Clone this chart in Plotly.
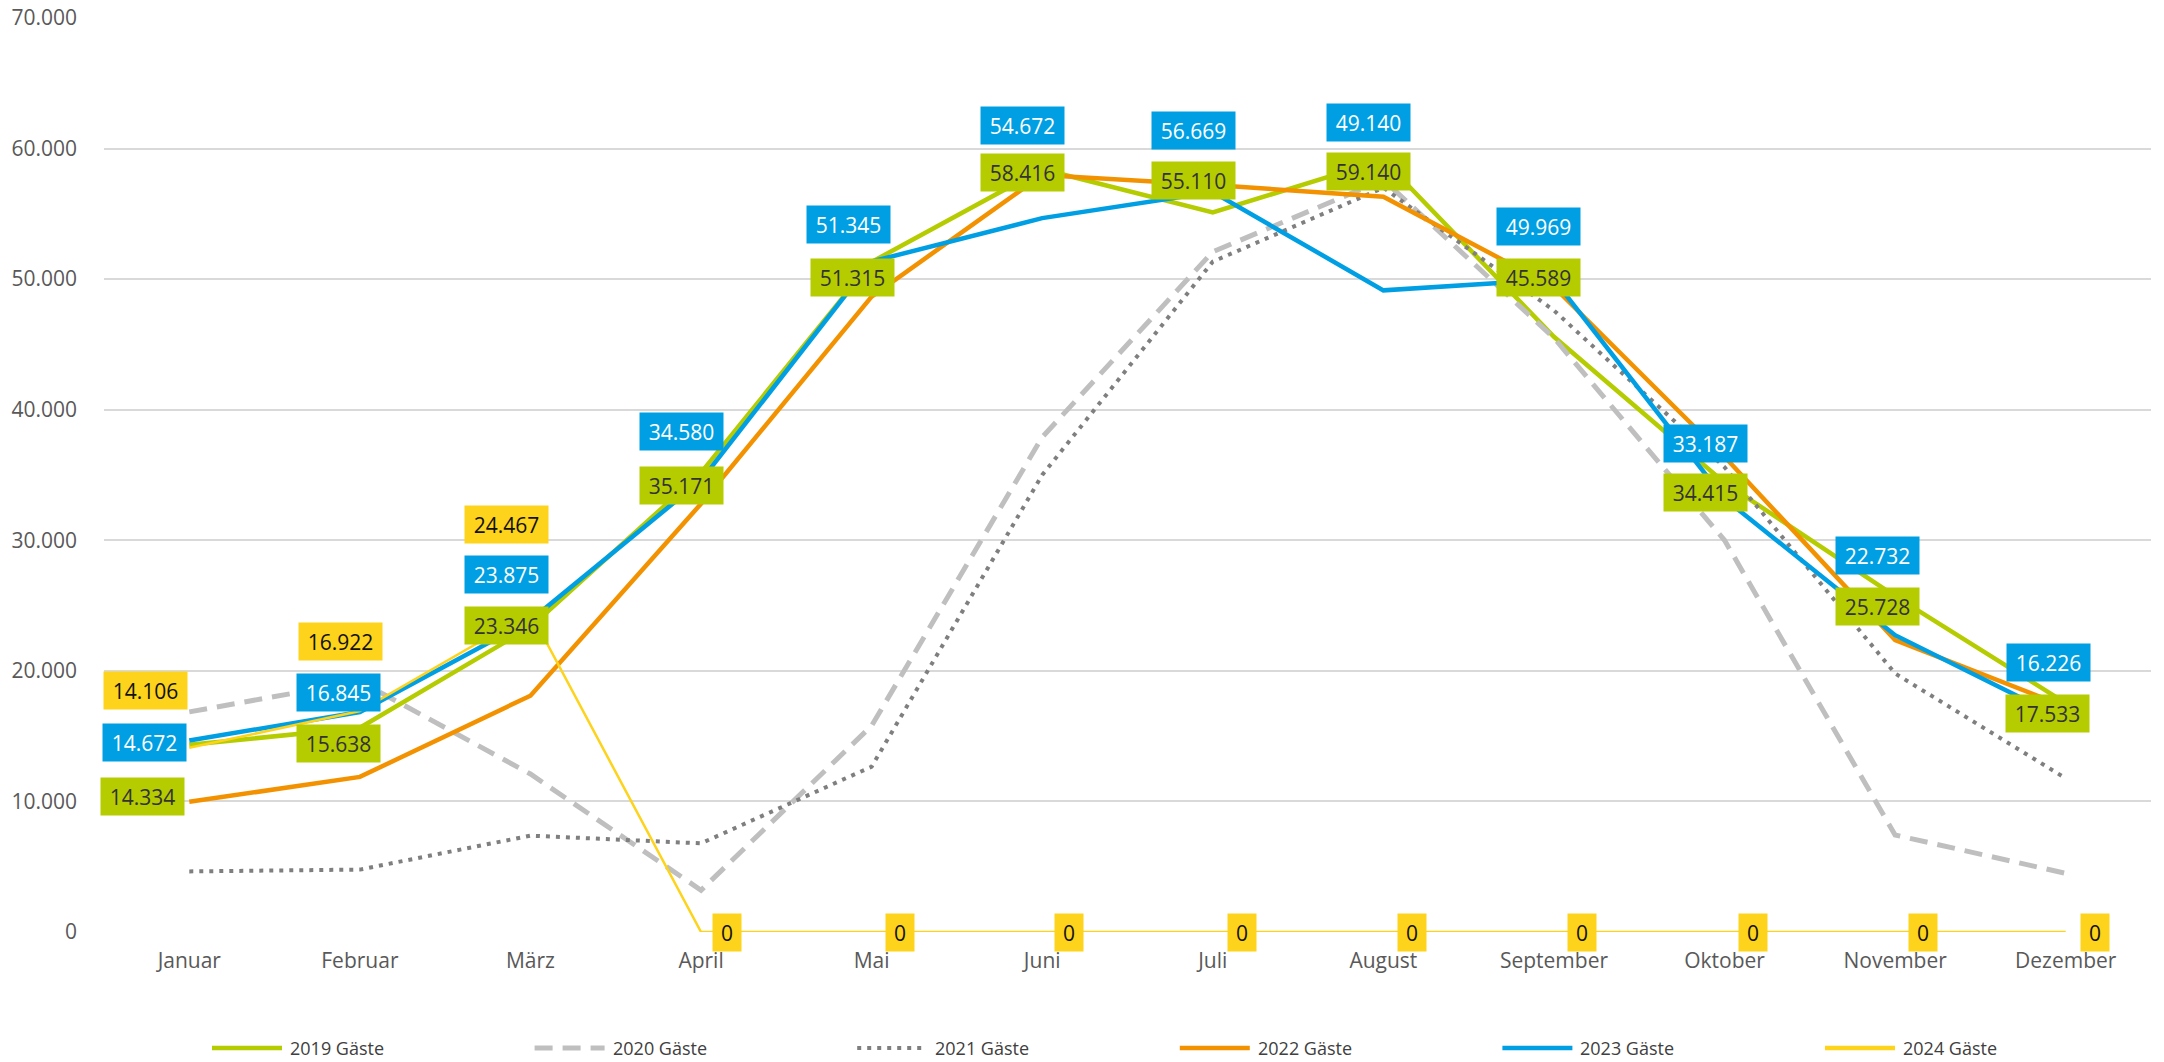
import plotly.graph_objects as go

# ---------------- data ----------------
months = ["Januar", "Februar", "März", "April", "Mai", "Juni", "Juli",
          "August", "September", "Oktober", "November", "Dezember"]

g2019 = [14334, 15638, 23346, 35171, 51315, 58416, 55110, 59140, 45589, 34415, 25728, 17533]
g2020 = [16860, 19200, 12100, 3200, 15800, 37900, 52100, 57600, 45500, 30000, 7430, 4490]
g2021 = [4640, 4780, 7380, 6790, 12660, 35000, 51340, 57000, 47600, 35600, 19800, 11770]
g2022 = [9970, 11880, 18100, 32800, 48660, 57980, 57210, 56310, 49400, 36400, 22360, 17250]
g2023 = [14672, 16845, 23875, 34580, 51345, 54672, 56669, 49140, 49969, 33187, 22732, 16226]
g2024 = [14106, 16922, 24467, 0, 0, 0, 0, 0, 0, 0, 0, 0]

series_names = ["2019 Gäste", "2020 Gäste", "2021 Gäste", "2022 Gäste", "2023 Gäste", "2024 Gäste"]
y_ticks = [0, 10000, 20000, 30000, 40000, 50000, 60000, 70000]

# ---------------- style ----------------
C19 = "#B5CC00"
C20 = "#BFBFBF"
C21 = "#7F7F7F"
C22 = "#F39200"
C23 = "#009FE3"
C24 = "#FDD31B"
FONT = "Open Sans, Liberation Sans, sans-serif"

styles = [
    dict(color=C19, width=4.5, dash="solid"),
    dict(color=C20, width=5, dash="18px,10px"),
    dict(color=C21, width=4, dash="4px,6px"),
    dict(color=C22, width=4.5, dash="solid"),
    dict(color=C23, width=4.5, dash="solid"),
    dict(color=C24, width=2.5, dash="solid"),
]

# label offsets (pixels) relative to each data point: (dx, dy up)
lab19_dx = [-47, -21, -24, -20, -19, -20, -19, -15, -15, -19, -18, -18]
lab19_dy = [-52, -16, 2, -13, -16, -3, 32, -12, 59, -10, -10, -10]
lab23_dx = [-45, -21, -24, -20, -23, -20, -19, -15, -15, -19, -18, -17]
lab23_dy = [-2, 20, 46, 49, 37, 93, 62, 168, 53, 55, 80, 58]
lab24_dx = [-44, -19, -24, 26, 28, 27, 29, 29, 28, 28, 28, 29]
lab24_dy = [57, 70, 88, 0, 0, 0, 0, 0, 0, 0, 0, 0]

# plot-area geometry (pixels)
W, H = 2164, 1062
ML, MR, MT, MB = 104, 13, 18, 130
PW, PH = W - ML - MR, H - MT - MB

# legend geometry (pixels)
leg_x0 = 212
leg_step = 322.6
leg_y = 1048
leg_len = 70


def fmt(v):
    return f"{v:,}".replace(",", ".")


fig = go.Figure()
all_series = [g2019, g2020, g2021, g2022, g2023, g2024]
for name, vals, st in zip(series_names, all_series, styles):
    fig.add_trace(go.Scatter(
        x=months, y=vals, mode="lines", name=name,
        line=dict(color=st["color"], width=st["width"], dash=st["dash"]),
        hoverinfo="x+y+name", showlegend=False,
    ))

annotations = []
shapes = []


def add_labels(vals, dxs, dys, bg, fg):
    for m, v, dx, dy in zip(months, vals, dxs, dys):
        txt = fmt(v)
        w = 83 if len(txt) > 1 else 28
        annotations.append(dict(
            x=m, y=v, xref="x", yref="y", text=txt, showarrow=False,
            xshift=dx, yshift=dy, bgcolor=bg, width=w, height=37,
            font=dict(family=FONT, size=21, color=fg),
            align="center", valign="middle", borderpad=0,
        ))


add_labels(g2019, lab19_dx, lab19_dy, C19, "#333333")
add_labels(g2023, lab23_dx, lab23_dy, C23, "#FFFFFF")
add_labels(g2024, lab24_dx, lab24_dy, C24, "#111111")

# custom legend (long line samples as in the original)
ly = (MT + PH - leg_y) / PH
for i, (name, st) in enumerate(zip(series_names, styles)):
    px0 = leg_x0 + i * leg_step
    x0 = (px0 - ML) / PW
    x1 = (px0 + leg_len - ML) / PW
    shapes.append(dict(
        type="line", xref="paper", yref="paper", x0=x0, x1=x1, y0=ly, y1=ly,
        line=dict(color=st["color"], width=max(st["width"], 4.5) if st["dash"] == "solid" else st["width"],
                  dash=st["dash"]),
    ))
    annotations.append(dict(
        x=(px0 + leg_len + 6 - ML) / PW, y=ly, xref="paper", yref="paper",
        xanchor="left", yanchor="middle", text=name, showarrow=False,
        font=dict(family=FONT, size=18, color="#404040"),
    ))

fig.update_layout(
    width=W, height=H,
    margin=dict(l=ML, r=MR, t=MT, b=MB, autoexpand=False),
    paper_bgcolor="white", plot_bgcolor="white",
    separators=",.",
    font=dict(family=FONT, color="#595959"),
    showlegend=False,
    annotations=annotations,
    shapes=shapes,
)
fig.update_xaxes(
    type="category", range=[-0.5, 11.5], showgrid=False, showline=False,
    ticks="", tickfont=dict(family=FONT, size=21, color="#595959"),
    ticklabelstandoff=14, zeroline=False,
)
fig.update_yaxes(
    range=[0, 70000], tickvals=y_ticks, tickformat=",d",
    showgrid=True, gridcolor="#D9D9D9", gridwidth=1.5,
    zeroline=False, showline=False, ticks="",
    tickfont=dict(family=FONT, size=21, color="#595959"),
    ticklabelstandoff=26,
)

fig.write_html(
    "out.html",
    config={"displayModeBar": False},
    post_script="document.body.style.margin='0';document.body.style.overflow='hidden';",
)
